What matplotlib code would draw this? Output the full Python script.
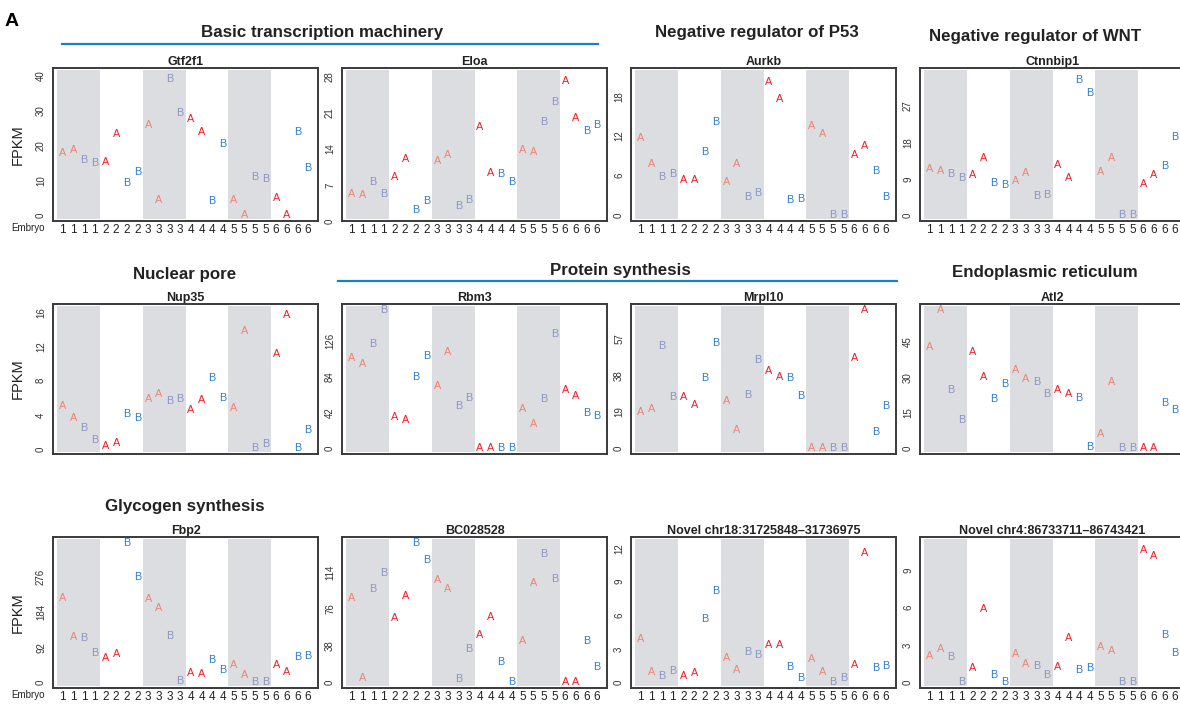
import matplotlib.pyplot as plt
from matplotlib.lines import Line2D
import numpy as np

plt.rcParams['font.family'] = ['Liberation Sans', 'DejaVu Sans']

# samples: 6 embryos, two alleles (A/B) with two replicates each
embryo = [1, 1, 1, 1, 2, 2, 2, 2, 3, 3, 3, 3, 4, 4, 4, 4, 5, 5, 5, 5, 6, 6, 6, 6]
allele = ['A', 'A', 'B', 'B', 'A', 'A', 'B', 'B', 'A', 'A', 'B', 'B',
          'A', 'A', 'B', 'B', 'A', 'A', 'B', 'B', 'A', 'A', 'B', 'B']

genes = ['Gtf2f1', 'Eloa', 'Aurkb', 'Ctnnbip1',
         'Nup35', 'Rbm3', 'Mrpl10', 'Atl2',
         'Fbp2', 'BC028528', 'Novel chr18:31725848\u201331736975', 'Novel chr4:86733711\u201386743421']

# FPKM values
gtf2f1 = [18.0, 18.8, 16.1, 15.0, 15.3, 23.3, 9.5, 12.5, 25.9, 4.4, 39.2, 29.3,
          27.8, 23.9, 4.2, 20.5, 4.6, 0.1, 11.0, 10.6, 5.2, 0.1, 24.0, 13.7]
eloa = [5.2, 5.0, 7.6, 5.2, 8.6, 12.0, 2.2, 3.8, 11.7, 12.9, 3.0, 4.1,
        18.3, 9.3, 9.1, 7.6, 13.8, 13.5, 19.2, 23.1, 27.2, 20.0, 17.6, 18.6]
aurkb = [11.7, 7.7, 5.8, 6.3, 5.3, 5.3, 9.5, 14.1, 5.1, 7.7, 2.7, 3.4,
         20.1, 17.6, 2.3, 2.5, 13.5, 12.3, 0.0, 0.0, 9.1, 10.4, 6.7, 2.8]
ctnnbip1 = [11.4, 11.0, 10.2, 9.3, 10.0, 14.1, 8.0, 7.6, 8.5, 10.4, 4.7, 5.1,
            12.4, 9.2, 33.4, 30.1, 10.6, 14.1, 0.0, 0.0, 7.7, 9.9, 12.3, 19.4]
nup35 = [5.1, 3.6, 2.5, 1.1, 0.4, 0.7, 4.1, 3.7, 5.9, 6.4, 5.6, 5.9,
         4.6, 5.7, 8.3, 6.0, 4.8, 13.8, 0.1, 0.6, 11.1, 15.7, 0.1, 2.3]
rbm3 = [106, 99, 122, 162, 36.5, 33, 83, 107.5, 73, 113, 49.5, 59.3,
        0, 0, 0, 0, 45.5, 28, 58, 134, 68, 61, 41.6, 37.7]
mrpl10 = [19.1, 20.5, 53.0, 26.7, 26.9, 22.7, 36.4, 54.6, 24.6, 9.4, 27.7, 46.1,
          40.2, 36.9, 36.6, 27.4, 0, 0, 0, 0, 47.0, 72.0, 8.5, 21.8]
atl2 = [42.6, 58.6, 24.6, 11.9, 40.5, 30.3, 20.9, 27.4, 33.1, 29.4, 28.0, 23.1,
        24.5, 23.1, 21.1, 0.8, 6.1, 28.0, 0, 0, 0, 0, 19.2, 16.1]
fbp2 = [219, 119, 115, 76, 63, 74.5, 364, 274, 217, 194, 122, 4.4,
        24.5, 22, 59.6, 31.6, 46.5, 20, 0, 0, 46.5, 26, 66.6, 67.5]
bc028528 = [87, 4.8, 97, 113.6, 66.7, 89.1, 144.7, 126.8, 106, 97, 3.8, 34.5,
            49.4, 67.4, 21.1, 0.7, 43.2, 102.6, 133.3, 106.7, 0, 0, 43.2, 16.2]
chr18 = [3.87, 0.97, 0.6, 1.03, 0.6, 0.8, 5.7, 8.17, 2.18, 1.09, 2.69, 2.41,
         3.32, 3.32, 1.4, 0.4, 2.06, 0.97, 0.0, 0.4, 1.6, 11.6, 1.29, 1.49]
chr4 = [2.12, 2.67, 2.04, 0.05, 1.13, 5.92, 0.58, 0.05, 2.29, 1.49, 1.35, 0.6,
        1.2, 3.55, 0.96, 1.16, 2.8, 2.5, 0, 0, 10.6, 10.1, 3.83, 2.34]

values = [gtf2f1, eloa, aurkb, ctnnbip1, nup35, rbm3, mrpl10, atl2,
          fbp2, bc028528, chr18, chr4]

yticks = [[0, 10, 20, 30, 40], [0, 7, 14, 21, 28], [0, 6, 12, 18], [0, 9, 18, 27],
          [0, 4, 8, 12, 16], [0, 42, 84, 126], [0, 19, 38, 57], [0, 15, 30, 45],
          [0, 92, 184, 276], [0, 38, 76, 114], [0, 3, 6, 9, 12], [0, 3, 6, 9]]

# upper end of the y range (None -> data max); some panels leave extra headroom
ytop = [40.7, 28.7, 21.4, 35.0, 16.3, None, None, None, None, None, 12.5, 11.2]

# colours: letters inside gray bands look washed out
col_a = '#f01c26'
col_a_gray = '#ec8472'
col_b = '#2f7dcc'
col_b_gray = '#8a95c4'
band_color = '#dcdde0'
line_blue = '#1b80c3'

W, H = 1180, 705
fig = plt.figure(figsize=(W / 100, H / 100), dpi=100)

col_left = [53, 342, 631, 920]
panel_w = 265
row_top = [68, 304, 537]
row_bot = [221, 454, 688]

x = np.arange(1, 25)
for k in range(12):
    r, c = k // 4, k % 4
    ax = fig.add_axes([col_left[c] / W, 1 - row_bot[r] / H, panel_w / W,
                       (row_bot[r] - row_top[r]) / H])
    vals = values[k]
    lo = min(vals)
    hi = ytop[k] if ytop[k] is not None else max(vals)
    pad = 0.04 * (hi - lo)
    ax.set_ylim(lo - pad, hi + pad)
    ax.set_xlim(1 - 0.04 * 23, 24 + 0.04 * 23)

    # gray bands for embryo 1, 3, 5
    for e in [1, 3, 5]:
        ax.axvspan(4 * e - 3.5, 4 * e + 0.5, ymin=0.012, ymax=0.988,
                   color=band_color, lw=0, zorder=0)

    for i in range(24):
        gray = embryo[i] % 2 == 1
        if allele[i] == 'A':
            color = col_a_gray if gray else col_a
        else:
            color = col_b_gray if gray else col_b
        ax.text(x[i], vals[i], allele[i], color=color, fontsize=7.8,
                ha='center', va='center', zorder=3)

    ax.set_yticks(yticks[k])
    ax.set_yticklabels([str(t) for t in yticks[k]], rotation=90, va='center',
                       fontsize=7, color='#333333')
    ax.tick_params(axis='y', length=0, pad=5)
    if r == 1:
        ax.set_xticks([])
    else:
        ax.set_xticks(x)
        ax.set_xticklabels([str(e) for e in embryo], fontsize=8.5, color='#222222')
        ax.tick_params(axis='x', length=0, pad=2)
    for s in ax.spines.values():
        s.set_color('#3a3a3a')
        s.set_linewidth(1.4)
        s.set_zorder(5)
    ax.set_title(genes[k], fontsize=9, fontweight='bold', pad=1.5, color='#222222')

# y labels and "Embryo" labels
for r in range(3):
    fig.text(18 / W, 1 - (row_top[r] + row_bot[r]) / 2 / H, 'FPKM', rotation=90,
             fontsize=10.5, ha='center', va='center', color='#222222')
for r in [0, 2]:
    fig.text(28 / W, 1 - (row_bot[r] + 7) / H, 'Embryo', fontsize=7,
             ha='center', va='center', color='#222222')

# group headings
groups = [('Basic transcription machinery', 322, 33),
          ('Negative regulator of P53', 757, 33),
          ('Negative regulator of WNT', 1035, 36),
          ('Nuclear pore', 185, 275),
          ('Protein synthesis', 620, 270),
          ('Endoplasmic reticulum', 1045, 272),
          ('Glycogen synthesis', 185, 506)]
for name, gx, gy in groups:
    fig.text(gx / W, 1 - gy / H, name, fontsize=12.2, fontweight='bold',
             ha='center', va='center', color='#222222')

fig.add_artist(Line2D([62 / W, 598 / W], [1 - 44 / H, 1 - 44 / H],
                      color=line_blue, lw=1.6, transform=fig.transFigure))
fig.add_artist(Line2D([338 / W, 897 / W], [1 - 281 / H, 1 - 281 / H],
                      color=line_blue, lw=1.6, transform=fig.transFigure))

fig.text(12 / W, 1 - 22 / H, 'A', fontsize=14, fontweight='bold',
         ha='center', va='center')

fig.savefig('out.png', dpi=100)
